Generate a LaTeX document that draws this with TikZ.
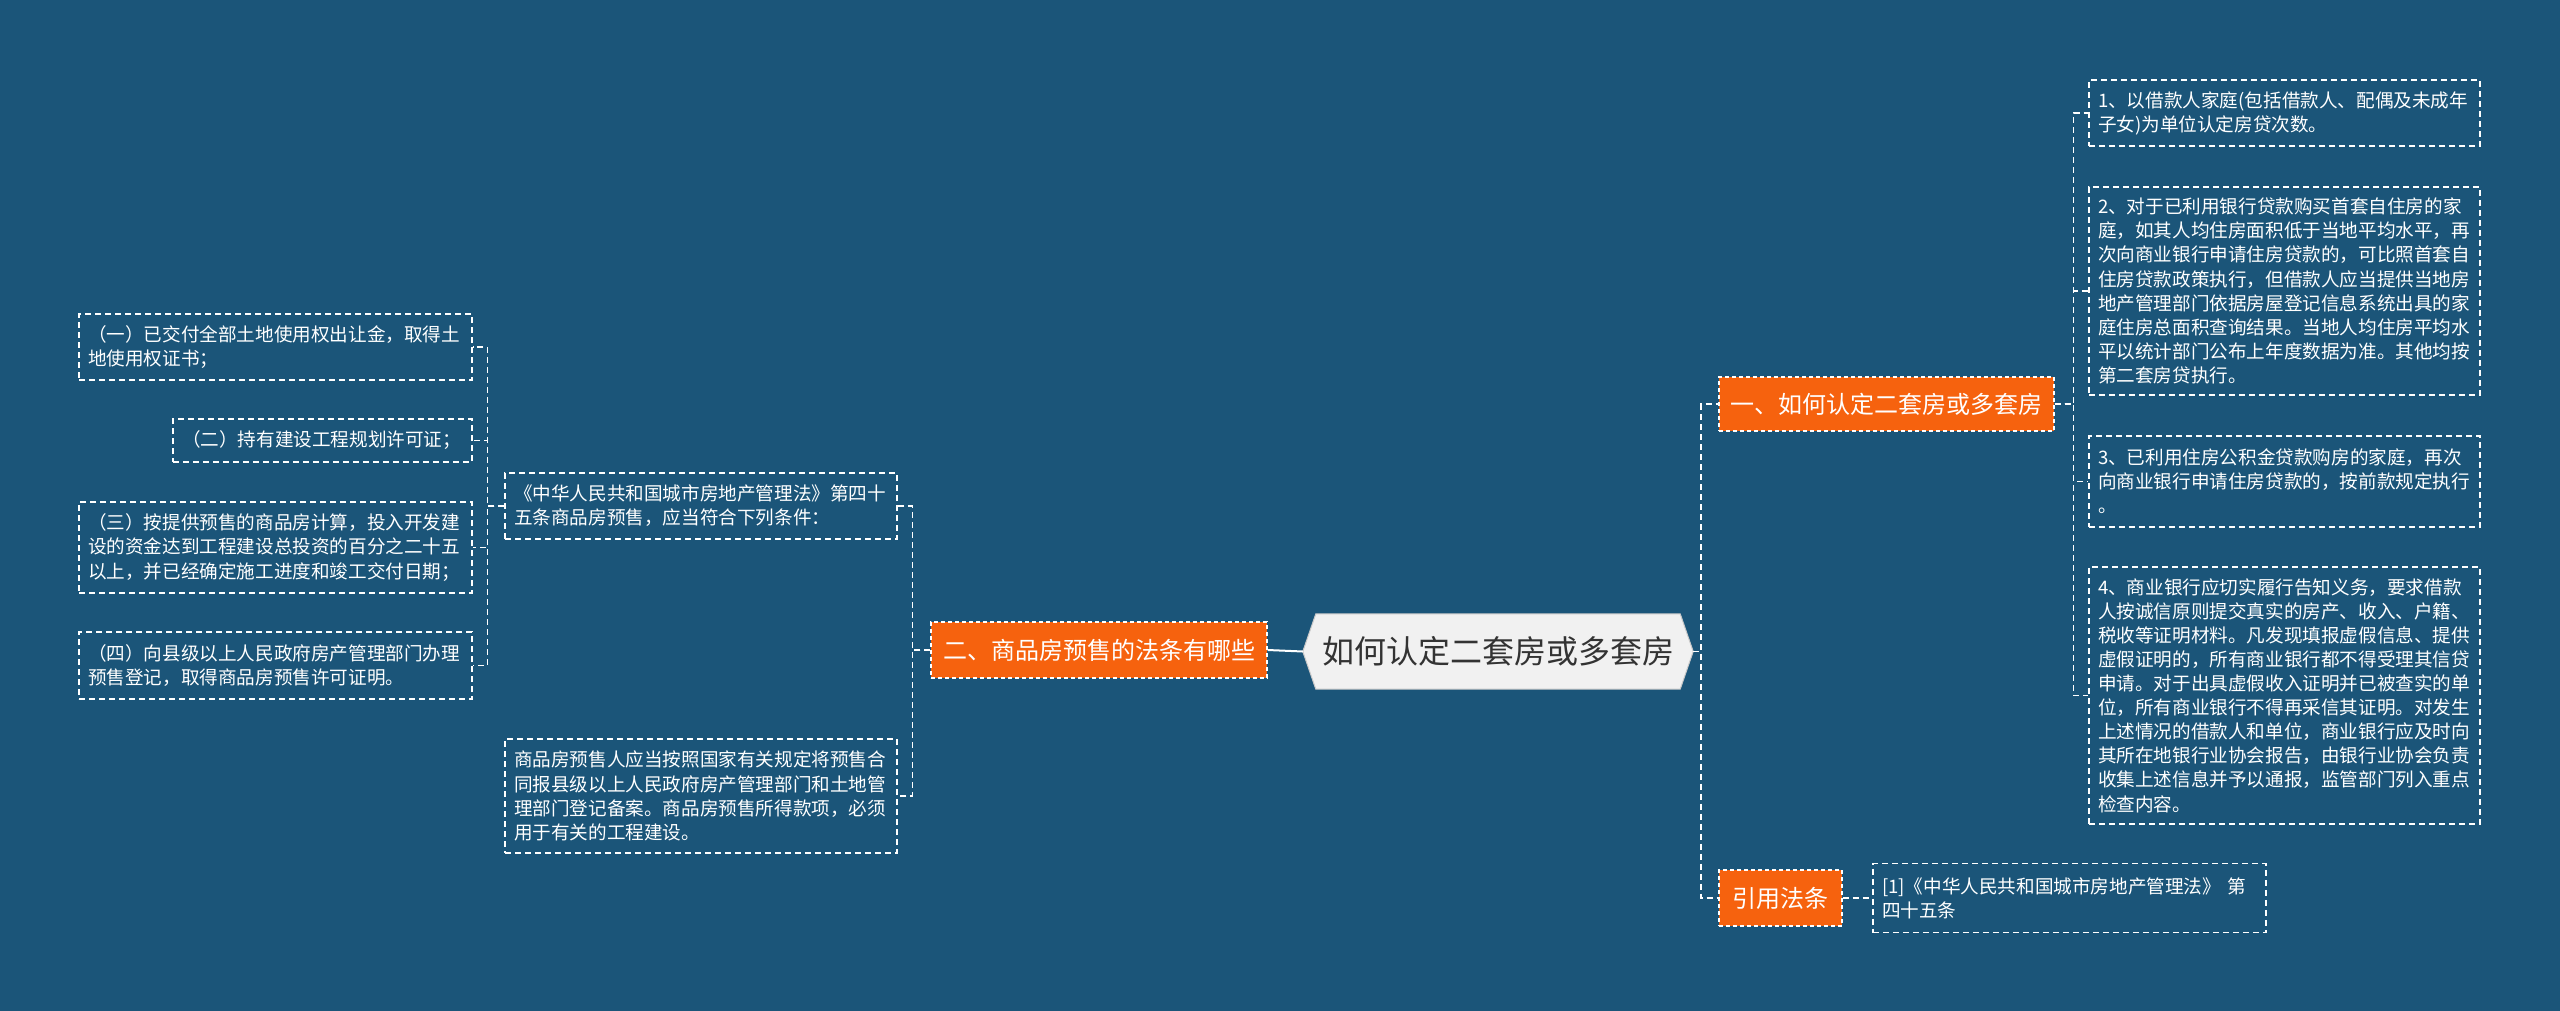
\documentclass[tikz,border=0pt]{standalone}
\usepackage{fontspec}
\setmainfont{Noto Sans CJK SC}
\usetikzlibrary{backgrounds}
\definecolor{bgblue}{RGB}{27,85,121}
\definecolor{orangefill}{RGB}{246,98,14}
\definecolor{centerfill}{RGB}{241,241,241}
\definecolor{centerdraw}{RGB}{200,200,200}
\definecolor{centertext}{RGB}{51,51,51}
\begin{document}
\begin{tikzpicture}[x=1pt,y=-1pt,
  leafbox/.style={draw=white, line width=1.3pt, dash pattern=on 6pt off 4pt, text=white, align=left, inner xsep=9pt, inner ysep=0pt, font=\fontsize{18.6pt}{24.1pt}\selectfont},
  orangebox/.style={fill=orangefill, draw=white, line width=1.2pt, dash pattern=on 4pt off 3pt, text=white, inner sep=0pt, font=\fontsize{24pt}{28pt}\selectfont},
  centerbox/.style={text=centertext, inner sep=0pt, minimum width=390pt, minimum height=75pt, font=\fontsize{32pt}{36pt}\selectfont},
  conn/.style={draw=white, line width=1.5pt, dash pattern=on 6pt off 4pt},
  mainconn/.style={draw=white, line width=2pt}]
\useasboundingbox (0,0) rectangle (2560,1011);

% central
\node[centerbox] (C) at (1498,651.5) {如何认定二套房或多套房};

% level 1
\node[orangebox, minimum width=336pt, minimum height=56pt] (O2) at (1099,650) {二、商品房预售的法条有哪些};
\node[orangebox, minimum width=335pt, minimum height=54pt] (O1) at (1886.5,404) {一、如何认定二套房或多套房};
\node[orangebox, minimum width=123pt, minimum height=56pt] (O3) at (1780.5,898) {引用法条};

% left side
\node[leafbox, text width=374pt, minimum height=66pt] (S1) at (701,506) {《中华人民共和国城市房地产管理法》第四十\\五条商品房预售，应当符合下列条件：};
\node[leafbox, text width=374pt, minimum height=114pt] (S2) at (701,796) {商品房预售人应当按照国家有关规定将预售合\\同报县级以上人民政府房产管理部门和土地管\\理部门登记备案。商品房预售所得款项，必须\\用于有关的工程建设。};

\node[leafbox, text width=375pt, minimum height=66pt] (L1) at (275.5,347) {（一）已交付全部土地使用权出让金，取得土\\地使用权证书；};
\node[leafbox, text width=281pt, minimum height=43pt] (L2) at (322.5,440.5) {（二）持有建设工程规划许可证；};
\node[leafbox, text width=375pt, minimum height=91pt] (L3) at (275.5,547.5) {（三）按提供预售的商品房计算，投入开发建\\设的资金达到工程建设总投资的百分之二十五\\以上，并已经确定施工进度和竣工交付日期；};
\node[leafbox, text width=375pt, minimum height=67pt] (L4) at (275.5,665.5) {（四）向县级以上人民政府房产管理部门办理\\预售登记，取得商品房预售许可证明。};

% right side
\node[leafbox, text width=373pt, minimum height=66pt] (R1) at (2284.5,113) {1、以借款人家庭(包括借款人、配偶及未成年\\子女)为单位认定房贷次数。};
\node[leafbox, text width=373pt, minimum height=208pt] (R2) at (2284.5,291) {2、对于已利用银行贷款购买首套自住房的家\\庭，如其人均住房面积低于当地平均水平，再\\次向商业银行申请住房贷款的，可比照首套自\\住房贷款政策执行，但借款人应当提供当地房\\地产管理部门依据房屋登记信息系统出具的家\\庭住房总面积查询结果。当地人均住房平均水\\平以统计部门公布上年度数据为准。其他均按\\第二套房贷执行。};
\node[leafbox, text width=373pt, minimum height=91pt] (R3) at (2284.5,481.5) {3、已利用住房公积金贷款购房的家庭，再次\\向商业银行申请住房贷款的，按前款规定执行\\。};
\node[leafbox, text width=373pt, minimum height=257pt] (R4) at (2284.5,695.5) {4、商业银行应切实履行告知义务，要求借款\\人按诚信原则提交真实的房产、收入、户籍、\\税收等证明材料。凡发现填报虚假信息、提供\\虚假证明的，所有商业银行都不得受理其信贷\\申请。对于出具虚假收入证明并已被查实的单\\位，所有商业银行不得再采信其证明。对发生\\上述情况的借款人和单位，商业银行应及时向\\其所在地银行业协会报告，由银行业协会负责\\收集上述信息并予以通报，监管部门列入重点\\检查内容。};
\node[leafbox, text width=375pt, minimum height=69pt] (Ref) at (2069.5,898) {[1]《中华人民共和国城市房地产管理法》 第\\四十五条};

% background and central shape
\begin{pgfonlayer}{background}
  \fill[bgblue] (0,0) rectangle (2560,1011);
  \draw[fill=centerfill, draw=centerdraw, line width=1pt] (C.west) -- ([xshift=13pt]C.north west) -- ([xshift=-13pt]C.north east) -- (C.east) -- ([xshift=-13pt]C.south east) -- ([xshift=13pt]C.south west) -- cycle;
\end{pgfonlayer}

% connectors
\draw[mainconn] (C.west) -- (O2.east);
\draw[conn] (O2.west) -- ++(-18,0) |- (S1.east);
\draw[conn] (O2.west) -- ++(-18,0) |- (S2.east);
\draw[conn] (S1.west) -- ++(-17,0) |- (L1.east);
\draw[conn] (S1.west) -- ++(-17,0) |- (L2.east);
\draw[conn] (S1.west) -- ++(-17,0) |- (L3.east);
\draw[conn] (S1.west) -- ++(-17,0) |- (L4.east);

\draw[conn] (C.east) -- ++(8,0) |- (O1.west);
\draw[conn] (C.east) -- ++(8,0) |- (O3.west);
\draw[conn] (O1.east) -- ++(19,0) |- (R1.west);
\draw[conn] (O1.east) -- ++(19,0) |- (R2.west);
\draw[conn] (O1.east) -- ++(19,0) |- (R3.west);
\draw[conn] (O1.east) -- ++(19,0) |- (R4.west);
\draw[conn] (O3.east) -- (Ref.west);
\end{tikzpicture}
\end{document}
